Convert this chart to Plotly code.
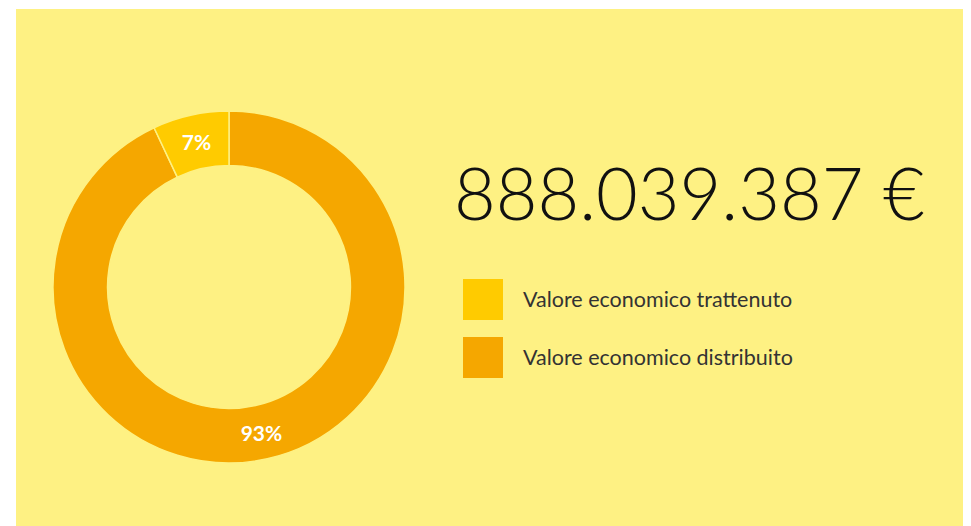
"""Donut chart: valore economico generato, distribuito e trattenuto."""

import plotly.graph_objects as go

# the page body keeps its default 8px margin, so the figure starts at (8, 8)
OFF = 8
W, H = 971 - OFF, 526 - OFF

labels = ["Valore economico distribuito", "Valore economico trattenuto"]
values = [93, 7]
colors = ["#F5A700", "#FFCB00"]
total_label = "888.039.387 €"

BG = "#FEF183"


def px_x(v):
    return (v - OFF) / W


def px_y(v):
    return 1 - (v - OFF) / H


fig = go.Figure()

fig.add_trace(
    go.Pie(
        labels=labels,
        values=values,
        hole=0.69,
        sort=False,
        direction="clockwise",
        rotation=0,
        marker=dict(colors=colors, line=dict(color=BG, width=1.5)),
        texttemplate="%{value}%",
        textposition="inside",
        insidetextorientation="horizontal",
        textfont=dict(family="Lato, sans-serif", size=21, color="white", weight="bold"),
        showlegend=False,
        hoverinfo="label+percent",
        domain=dict(x=[px_x(53), px_x(405)], y=[px_y(463), px_y(111)]),
    )
)

shapes = [
    dict(type="rect", xref="paper", yref="paper", x0=px_x(16), x1=1, y0=0, y1=px_y(9),
         fillcolor=BG, line=dict(width=0), layer="below"),
]
annotations = [
    dict(text=total_label, xref="paper", yref="paper", x=px_x(452), y=px_y(192),
         xanchor="left", yanchor="middle", showarrow=False,
         font=dict(family="Lato, sans-serif", size=72, color="#111111", weight=300)),
]

# custom legend, trattenuto first
for i, (lab, col) in enumerate(zip(labels[::-1], colors[::-1])):
    top = 279 + i * 58
    shapes.append(dict(type="rect", xref="paper", yref="paper",
                       x0=px_x(463), x1=px_x(503), y0=px_y(top + 41), y1=px_y(top),
                       fillcolor=col, line=dict(width=0)))
    annotations.append(dict(text=lab, xref="paper", yref="paper",
                            x=px_x(521), y=px_y(top + 20), xanchor="left", yanchor="middle",
                            showarrow=False,
                            font=dict(family="Lato, sans-serif", size=21.5, color="#333333")))

fig.update_layout(
    width=W,
    height=H,
    margin=dict(l=0, r=0, t=0, b=0),
    paper_bgcolor="white",
    shapes=shapes,
    annotations=annotations,
)

fig.write_html("out.html")
